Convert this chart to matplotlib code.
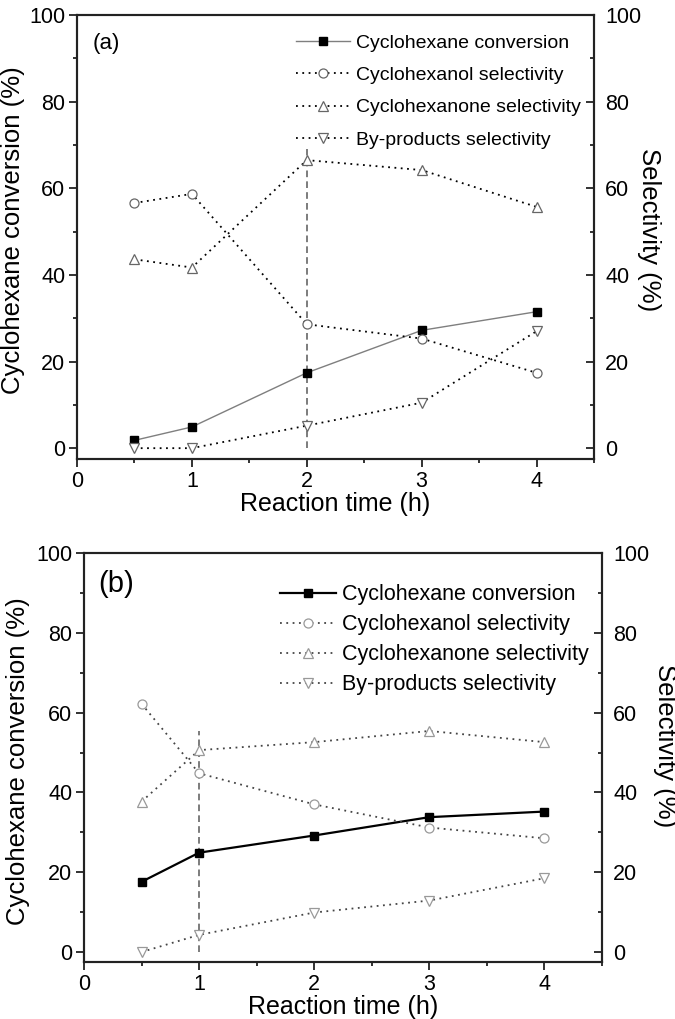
#Two-panel plot of cyclohexane oxidation results
#(conversion on the left axis, selectivities on the right axis).

import matplotlib
matplotlib.use('Agg')
import matplotlib.pyplot as plt
from matplotlib.ticker import MultipleLocator

plt.rcParams['font.family'] = ['Liberation Sans', 'DejaVu Sans']

#Data

time_a = [0.5, 1, 2, 3, 4]
conversion_a = [1.8, 4.9, 17.4, 27.2, 31.5]
cyclohexanol_a = [56.6, 58.7, 28.6, 25.3, 17.4]
cyclohexanone_a = [43.6, 41.7, 66.5, 64.2, 55.7]
byproducts_a = [0.0, 0.0, 5.2, 10.5, 27.0]
guide_a = (2, 69)

time_b = [0.5, 1, 2, 3, 4]
conversion_b = [17.6, 24.9, 29.2, 33.8, 35.2]
cyclohexanol_b = [62.2, 44.8, 37.0, 31.2, 28.5]
cyclohexanone_b = [37.7, 50.6, 52.6, 55.4, 52.6]
byproducts_b = [0.0, 4.3, 9.9, 12.9, 18.5]
guide_b = (1, 55.5)

series_labels = ['Cyclohexane conversion', 'Cyclohexanol selectivity',
                 'Cyclohexanone selectivity', 'By-products selectivity']


def draw_panel(fig, rect, time, conversion, cyclohexanol, cyclohexanone,
               byproducts, guide, tag, style):
   ax = fig.add_axes(rect)
   ax2 = ax.twinx()

   #Vertical guide line
   ax.plot([guide[0], guide[0]], [0, guide[1]], color='#666666',
           ls=(0, (4, 2.5)), lw=1.2, zorder=1)

   h1, = ax.plot(time, conversion, color=style['conv_color'], lw=style['conv_lw'],
                 marker='s', ms=5.5, mfc='black', mec='black', zorder=3)

   sel_kw = dict(color=style['sel_color'], ls=(0, (1, 2.5)), lw=1.3,
                 mfc='white', mec=style['mk_color'], mew=0.9)
   h2, = ax2.plot(time, cyclohexanol, marker='o', ms=6.5, **sel_kw)
   h3, = ax2.plot(time, cyclohexanone, marker='^', ms=7.5, **sel_kw)
   h4, = ax2.plot(time, byproducts, marker='v', ms=7.5, **sel_kw)

   for a in (ax, ax2):
      a.set_xlim(0, 4.5)
      a.set_ylim(-2.5, 100)
      a.yaxis.set_major_locator(MultipleLocator(20))
      a.yaxis.set_minor_locator(MultipleLocator(10))
      for s in a.spines.values():
         s.set_linewidth(1.5)
         s.set_color('#222222')

   ax.xaxis.set_major_locator(MultipleLocator(1))
   ax.xaxis.set_minor_locator(MultipleLocator(0.5))
   ax.tick_params(which='both', direction='out', width=1.3, color='#222222',
                  labelsize=15.5, pad=3)
   ax.tick_params(which='major', length=5.5)
   ax.tick_params(which='minor', length=3)
   ax2.tick_params(which='both', direction='in', width=1.3, color='#222222',
                   labelsize=15.5, pad=8)
   ax2.tick_params(which='major', length=5.5)
   ax2.tick_params(which='minor', length=3)

   ax.set_xlabel('Reaction time (h)', fontsize=18, labelpad=0)
   ax.set_ylabel('Cyclohexane conversion (%)', fontsize=18.5)
   ax.yaxis.set_label_coords(style['ylab_x'], style['ylab_y'])
   ax2.set_ylabel('Selectivity (%)', fontsize=18.5, rotation=270, va='bottom')
   ax2.yaxis.set_label_coords(style['y2lab_x'], style['y2lab_y'])

   ax2.text(style['tag_pos'][0], style['tag_pos'][1], tag,
            fontsize=style['tag_size'], va='center', ha='left')

   ax2.legend([h1, h2, h3, h4], series_labels, loc='upper left',
              bbox_to_anchor=style['leg_anchor'], frameon=False,
              fontsize=style['leg_size'], borderpad=0, borderaxespad=0,
              handlelength=style['handlelength'], handletextpad=0.3,
              labelspacing=style['labelspacing'])
   return ax, ax2


fig = plt.figure(figsize=(6.75, 10.19), dpi=100)

style_a = dict(conv_color='#7f7f7f', conv_lw=1.0, sel_color='black',
               mk_color='#666666', ylab_x=-0.10, ylab_y=0.516,
               y2lab_x=1.083, y2lab_y=0.516, tag_pos=(0.14, 93.5), tag_size=16,
               leg_anchor=(0.4236, 0.957), leg_size=14, handlelength=2.8,
               labelspacing=0.76)
style_b = dict(conv_color='black', conv_lw=1.6, sel_color='#444444',
               mk_color='#999999', ylab_x=-0.104, ylab_y=0.49,
               y2lab_x=1.098, y2lab_y=0.53, tag_pos=(0.12, 92.2), tag_size=21,
               leg_anchor=(0.378, 0.924), leg_size=15.5, handlelength=2.6,
               labelspacing=0.42)

draw_panel(fig, [77/675, 1-459/1019, 517/675, 444/1019], time_a, conversion_a,
           cyclohexanol_a, cyclohexanone_a, byproducts_a, guide_a, '(a)', style_a)
draw_panel(fig, [84/675, 1-962/1019, 518/675, 409/1019], time_b, conversion_b,
           cyclohexanol_b, cyclohexanone_b, byproducts_b, guide_b, '(b)', style_b)

plt.savefig('out.png', dpi=100)
